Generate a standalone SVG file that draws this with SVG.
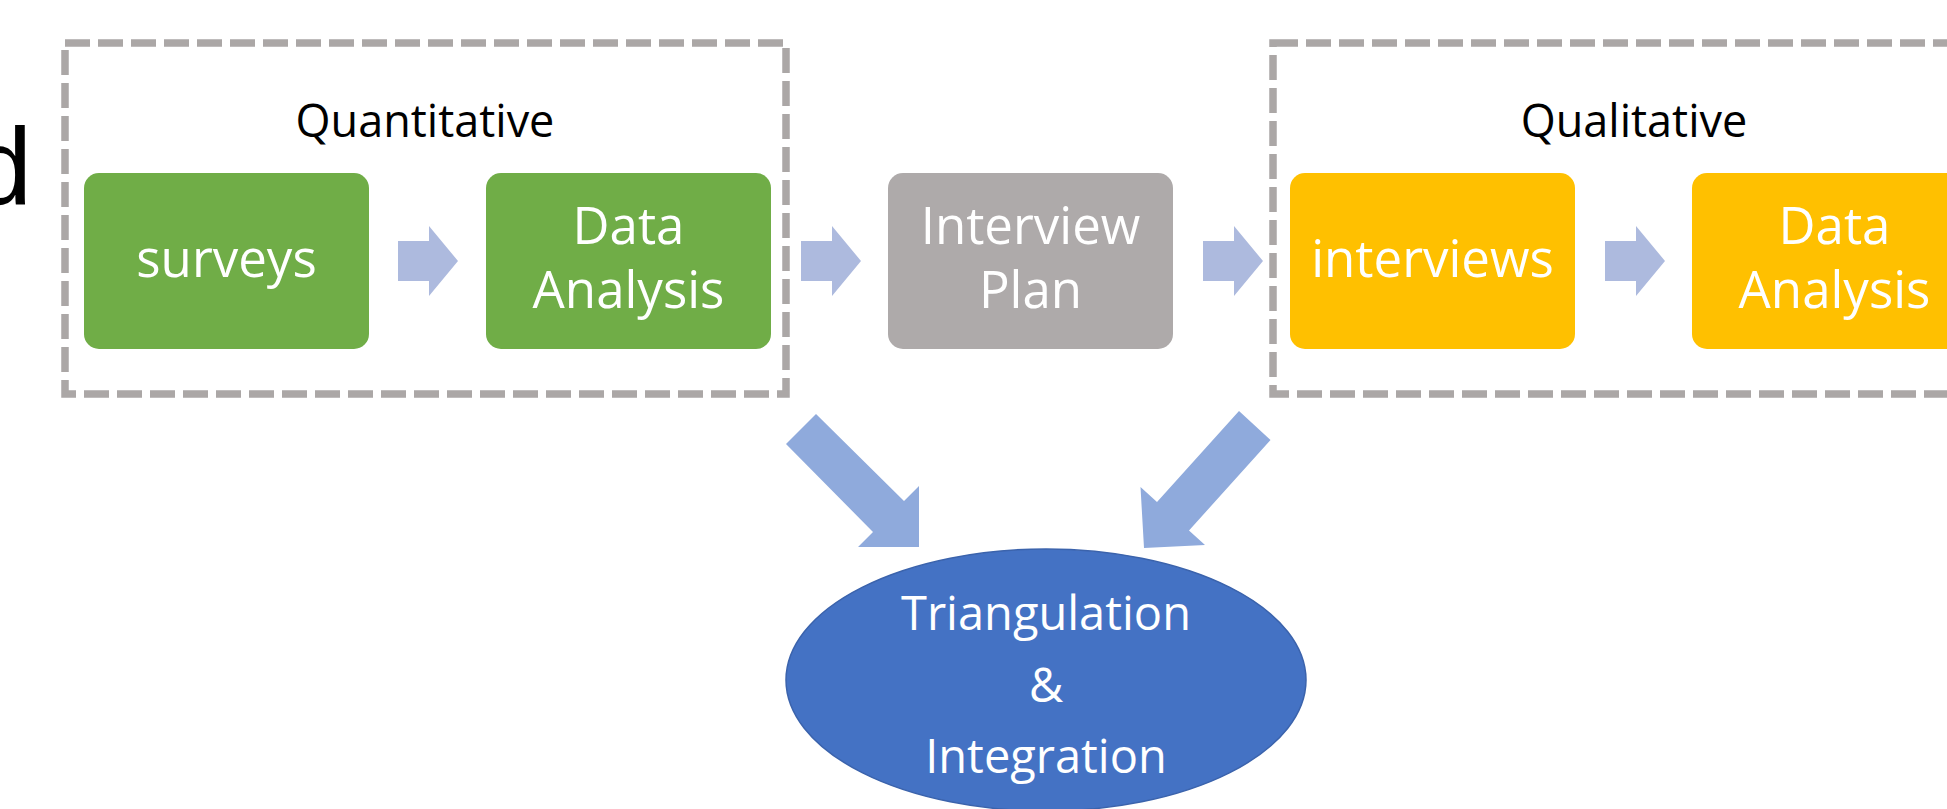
<svg xmlns="http://www.w3.org/2000/svg" width="1947" height="809" viewBox="0 0 1947 809">
<style>
.lbl{font-family:"Open Sans","Noto Sans",sans-serif;fill:#000;font-size:45px;text-anchor:middle}
.bt{font-family:"Open Sans","Noto Sans",sans-serif;fill:#fff;font-size:51px;text-anchor:middle}
.et{font-family:"Open Sans","Noto Sans",sans-serif;fill:#fff;font-size:47px;text-anchor:middle}
.grp{fill:none;stroke:#ABA7A6;stroke-width:7.5;stroke-dasharray:25 8}
.harrow{fill:#ADBADE}
.darrow{fill:#8FAADC}
</style>
<defs>
<path id="harr" d="M0,-20 H31 V-35 L60,0 L31,35 V20 H0 Z"/>
</defs>
<rect width="1947" height="809" fill="#fff"/>
<text x="-29" y="204" font-family="Liberation Sans, Arial, sans-serif" font-size="110" fill="#000">d</text>
<g id="quantitative-group">
<rect class="grp" x="65" y="43" width="721" height="351"/>
<text class="lbl" x="425" y="137">Quantitative</text>
</g>
<g id="qualitative-group">
<rect class="grp" x="1273" y="43" width="740" height="351"/>
<text class="lbl" x="1634" y="137">Qualitative</text>
</g>
<g id="connectors">
<use href="#harr" class="harrow" x="398" y="261"/>
<use href="#harr" class="harrow" x="801" y="261"/>
<use href="#harr" class="harrow" x="1203" y="261"/>
<use href="#harr" class="harrow" x="1605" y="261"/>
<polygon class="darrow" points="816,414 904,501 919,486 919,547 858,547 873,532 786,444"/>
<polygon class="darrow" points="1239,411 1157,502 1140.5,487 1144,548 1205,545 1189,530.5 1270.5,440"/>
</g>
<g id="surveys">
<rect x="84" y="173" width="285" height="176" rx="15" fill="#70AD47"/>
<text class="bt" x="226.5" y="277">surveys</text>
</g>
<g id="data-analysis-quant">
<rect x="486" y="173" width="285" height="176" rx="15" fill="#70AD47"/>
<text class="bt" x="628.5" y="244">Data</text>
<text class="bt" x="628.5" y="308">Analysis</text>
</g>
<g id="interview-plan">
<rect x="888" y="173" width="285" height="176" rx="15" fill="#AEAAAA"/>
<text class="bt" x="1030.5" y="244">Interview</text>
<text class="bt" x="1030.5" y="308">Plan</text>
</g>
<g id="interviews">
<rect x="1290" y="173" width="285" height="176" rx="15" fill="#FFC000"/>
<text class="bt" x="1432.5" y="277">interviews</text>
</g>
<g id="data-analysis-qual">
<rect x="1692" y="173" width="285" height="176" rx="15" fill="#FFC000"/>
<text class="bt" x="1834.5" y="244">Data</text>
<text class="bt" x="1834.5" y="308">Analysis</text>
</g>
<g id="triangulation">
<ellipse cx="1046" cy="680" rx="260" ry="131" fill="#4472C4" stroke="#3B63AC" stroke-width="1.5"/>
<text class="et" x="1046" y="630">Triangulation</text>
<text class="et" x="1046" y="702">&amp;</text>
<text class="et" x="1046" y="773">Integration</text>
</g>
</svg>
